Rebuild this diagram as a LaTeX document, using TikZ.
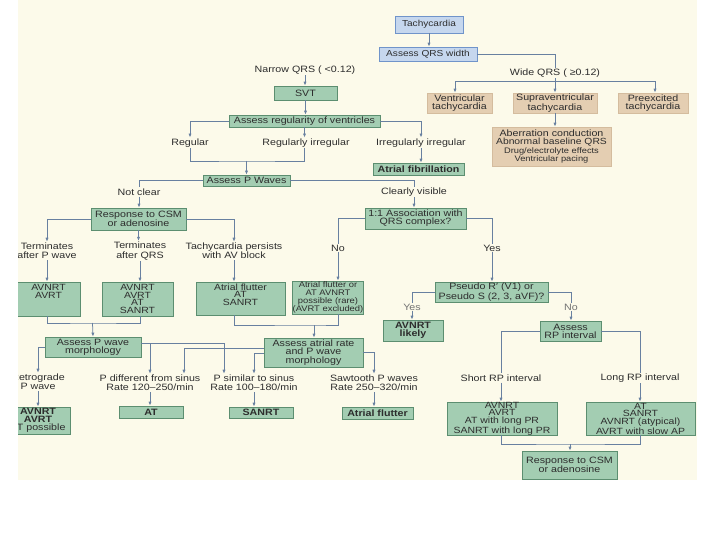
\documentclass[tikz,border=0pt]{standalone}
\usepackage{fontspec}
\setmainfont{Liberation Sans}[FakeStretch=1.16]
\usetikzlibrary{arrows.meta,calc}
\definecolor{cream}{RGB}{252,250,234}
\definecolor{gfill}{RGB}{163,205,178}
\definecolor{gdraw}{RGB}{92,142,112}
\definecolor{bfill}{RGB}{198,215,238}
\definecolor{bdraw}{RGB}{112,148,202}
\definecolor{tfill}{RGB}{228,206,178}
\definecolor{tdraw}{RGB}{212,188,158}
\definecolor{lcol}{RGB}{104,128,160}
\definecolor{txt}{RGB}{45,45,45}
\definecolor{ltxt}{RGB}{115,115,115}
\newcommand{\bxf}{\fontsize{9.2}{8.2}\selectfont}
\newcommand{\bxs}{\fontsize{9}{7.8}\selectfont}
\newcommand{\lbf}{\fontsize{9.2}{9.4}\selectfont}
\newcommand{\tpf}{\fontsize{8.7}{9}\selectfont}
\newcommand{\smf}{\fontsize{8}{8.2}\selectfont}
\tikzset{
  box/.style={rectangle, inner sep=0pt, align=center, text=txt, font=\bxf, line width=0.7pt},
  gbox/.style={box, draw=gdraw, fill=gfill},
  bbox/.style={box, draw=bdraw, fill=bfill, font=\tpf},
  tbox/.style={box, draw=tdraw, fill=tfill},
  wh/.style 2 args={minimum width=#1, minimum height=#2},
  lbl/.style={inner sep=1pt, align=center, text=txt, font=\lbf},
  conn/.style={draw=lcol, line width=0.75pt},
  arr/.style={conn, -{Latex[length=4pt,width=3.2pt]}},
}
\begin{document}
\begin{tikzpicture}[x=1pt,y=-1pt]
\useasboundingbox (0,0) rectangle (720,540);
\fill[white] (0,0) rectangle (720,540);
\fill[cream] (18,0) rectangle (697,480);
\begin{scope}
\clip (18,0) rectangle (697,480);
% nodes
\node[bbox, wh={68}{17}] (tach) at (429,24.5) {Tachycardia};
\node[bbox, wh={98}{14}] (qrs) at (428,54) {Assess QRS width};
\node[lbl] (narrow) at (305,70) {Narrow QRS ( <0.12)};
\node[lbl] (wide) at (555,73) {Wide QRS ( ≥0.12)};
\node[tbox, wh={65}{20}] (vt) at (459.5,103) {Ventricular\\tachycardia};
\node[tbox, wh={84}{20}] (svtach) at (555,103) {Supraventricular\\tachycardia};
\node[tbox, wh={70}{20}] (pre) at (653,103) {Preexcited\\tachycardia};
\node[tbox, wh={119}{39}] (aber) at (551.5,146.5) {Aberration conduction\\{\fontsize{8.9}{8.2}\selectfont Abnormal baseline QRS}\\{\smf Drug/electrolyte effects}\\{\smf Ventricular pacing}};
\node[gbox, wh={63}{14}] (svt) at (305.5,93) {SVT};
\node[gbox, wh={151}{12}] (reg) at (304.5,121) {Assess regularity of ventricles};
\node[lbl] (regular) at (190,143) {Regular};
\node[lbl] (regirr) at (306,143) {Regularly irregular};
\node[lbl] (irrirr) at (421,143) {Irregularly irregular};
\node[gbox, wh={91}{12}, font=\bxf\bfseries] (afib) at (418.5,169) {Atrial fibrillation};
\node[gbox, wh={87}{11}] (pw) at (246.5,180.5) {Assess P Waves};
\node[lbl] (notclear) at (139,192) {Not clear};
\node[lbl] (clear) at (414,192) {Clearly visible};
\node[gbox, wh={95}{22}] (csm1) at (138.5,219) {Response to CSM\\or adenosine};
\node[gbox, wh={101}{21}] (assoc) at (415.5,218.5) {1:1 Association with\\QRS complex?};
\node[lbl] (termp) at (47,251) {Terminates\\after P wave};
\node[lbl] (termq) at (140,251) {Terminates\\after QRS};
\node[lbl] (persist) at (234,251) {Tachycardia persists\\with AV block};
\node[lbl] (no1) at (338,248) {No};
\node[lbl] (yes1) at (492,248) {Yes};
\node[gbox, wh={63}{34}, font=\bxs] (b1) at (48.5,299) {AVNRT\\AVRT\\\mbox{}\\\mbox{}};
\node[gbox, wh={71}{34}, font=\bxs] (b2) at (137.5,299) {AVNRT\\AVRT\\AT\\SANRT};
\node[gbox, wh={89}{33}, font=\bxs] (b3) at (240.5,298.5) {Atrial flutter\\AT\\SANRT\\\mbox{}};
\node[gbox, wh={70}{33}, font=\fontsize{8.1}{7.8}\selectfont] (b4) at (328,297.5) {Atrial flutter or\\AT AVNRT\\possible (rare)\\(AVRT excluded)};
\node[gbox, wh={113}{20}] (pseudo) at (491.5,292) {Pseudo R′ (V1) or\\Pseudo S (2, 3, aVF)?};
\node[lbl, text=ltxt] (yes2) at (412,307) {Yes};
\node[lbl, text=ltxt] (no2) at (571,307) {No};
\node[gbox, wh={60}{21}, font=\bxf\bfseries] (likely) at (413,330.5) {AVNRT\\likely};
\node[gbox, wh={61}{20}] (rp) at (570.5,331) {Assess\\RP interval};
\node[lbl] (short) at (501,378) {Short RP interval};
\node[lbl] (long) at (640,378) {Long RP interval};
\node[gbox, wh={110}{33}, font=\bxs] (sbox) at (502,418.5) {AVNRT\\AVRT\\AT with long PR\\SANRT with long PR};
\node[gbox, wh={109}{33}, font=\bxs] (lbox) at (640.5,418.5) {AT\\SANRT\\AVNRT (atypical)\\AVRT with slow AP};
\node[gbox, wh={95}{28}] (csm2) at (569.5,465) {Response to CSM\\or adenosine};
\node[gbox, wh={96}{20}] (pwm) at (93,347) {Assess P wave\\morphology};
\node[gbox, wh={99}{29}] (arate) at (313.5,352.5) {Assess atrial rate\\and P wave\\morphology};
\node[lbl] (retro) at (38,382) {Retrograde\\P wave};
\node[lbl] (pdiff) at (150,383) {P different from sinus\\Rate 120--250/min};
\node[lbl] (psim) at (254,383) {P similar to sinus\\Rate 100--180/min};
\node[lbl] (saw) at (374,383) {Sawtooth P waves\\Rate 250--320/min};
\node[gbox, wh={64}{27}] (bl) at (38,420.5) {\textbf{AVNRT}\\\textbf{AVRT}\\AT possible};
\node[gbox, wh={64}{12}, font=\bxf\bfseries] (at) at (151,412) {AT};
\node[gbox, wh={64}{11}, font=\bxf\bfseries] (sanrt) at (261,412.5) {SANRT};
\node[gbox, wh={71}{12}, font=\bxf\bfseries] (aflut) at (377.5,413) {Atrial flutter};
% connectors
\draw[arr] (tach.south) -- (tach.south |- qrs.north);
\draw[conn] (qrs.east) -| (wide.north);
\coordinate (wj) at (555,81);
\draw[conn] (wide.south) -- (wj);
\draw[arr] (wj) -| ($(vt.north)+(-4.5,0)$);
\draw[arr] (wj) -- (wj |- svtach.north);
\draw[arr] (wj) -| ($(pre.north)+(2,0)$);
\draw[arr] (narrow.south) -- (narrow.south |- svt.north);
\draw[arr] (svtach.south) -- (svtach.south |- aber.north);
\draw[arr] (svt.south) -- (svt.south |- reg.north);
\draw[arr] (reg.west) -| (regular.north);
\draw[arr] (reg.south) -- (reg.south |- regirr.north);
\draw[arr] (reg.east) -| (irrirr.north);
\draw[arr] (irrirr.south) -- (irrirr.south |- afib.north);
\coordinate (j1) at (246.5,161);
\draw[conn] (regular.south) |- (j1) -| (reg.south |- regirr.south);
\draw[arr] (j1) -- (pw.north);
\draw[conn] (pw.west) -| (notclear.north);
\draw[arr] (notclear.south) -- (notclear.south |- csm1.north);
\draw[conn] (pw.east) -| (clear.north);
\draw[arr] (clear.south) -- (clear.south |- assoc.north);
\draw[arr] (csm1.west) -| (termp.north);
\draw[arr] (csm1.south) -- (csm1.south |- termq.north);
\draw[arr] (csm1.east) -| (persist.north);
\draw[arr] (termp.south) -- (termp.south |- b1.north);
\draw[arr] (termq.south) -- (termq.south |- b2.north);
\draw[arr] (persist.south) -- (persist.south |- b3.north);
\draw[conn] (assoc.west) -| (no1.north);
\draw[arr] (no1.south) -- (no1.south |- b4.north);
\draw[conn] (assoc.east) -| (yes1.north);
\draw[arr] (yes1.south) -- (yes1.south |- pseudo.north);
\coordinate (j2) at (92.5,323);
\draw[conn] (termp.south |- b1.south) |- (j2) -| (termq.south |- b2.south);
\draw[arr] (j2) -- (pwm.north);
\coordinate (j3) at (314,325);
\draw[conn] (persist.south |- b3.south) |- (j3) -| (no1.south |- b4.south);
\draw[arr] (j3) -- (j3 |- arate.north);
\draw[conn] (pseudo.west) -| (yes2.north);
\draw[arr] (yes2.south) -- (yes2.south |- likely.north);
\draw[conn] (pseudo.east) -| (no2.north);
\draw[arr] (no2.south) -- (no2.south |- rp.north);
\draw[conn] (rp.west) -| (short.north);
\draw[conn] (rp.east) -| (long.north);
\draw[arr] (short.south) -- (short.south |- sbox.north);
\draw[arr] (long.south) -- (long.south |- lbox.north);
\coordinate (j4) at (570,444);
\draw[conn] (short.south |- sbox.south) |- (j4) -| (long.south |- lbox.south);
\draw[arr] (j4) -- (j4 |- csm2.north);
\draw[arr] (pwm.west) -| (retro.north);
\draw[arr] (retro.south) -- (retro.south |- bl.north);
\coordinate (pe) at ($(pwm.east)+(0,-4)$);
\draw[arr] (pe) -| ($(psim.north)+(-30,0)$);
\draw[arr] (pe -| pdiff.north) -- (pdiff.north);
\draw[arr] ($(arate.west)+(0,-4.5)$) -| ($(pdiff.north)+(34,0)$);
\draw[arr] ($(arate.west)+(0,0.5)$) -| (psim.north);
\draw[arr] (arate.east) -| (saw.north);
\draw[arr] (pdiff.south) -- (pdiff.south |- at.north);
\draw[arr] (psim.south) -- (psim.south |- sanrt.north);
\draw[arr] (saw.south) -- (saw.south |- aflut.north);
\end{scope}
\end{tikzpicture}
\end{document}
